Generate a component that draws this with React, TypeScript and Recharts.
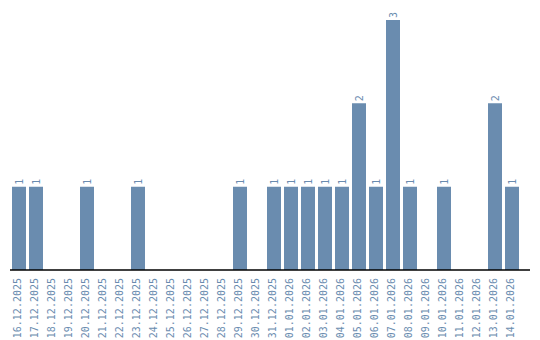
import React from "react";
import { BarChart, Bar, XAxis, YAxis, LabelList } from "recharts";

const dates = [
  "16.12.2025", "17.12.2025", "18.12.2025", "19.12.2025", "20.12.2025",
  "21.12.2025", "22.12.2025", "23.12.2025", "24.12.2025", "25.12.2025",
  "26.12.2025", "27.12.2025", "28.12.2025", "29.12.2025", "30.12.2025",
  "31.12.2025", "01.01.2026", "02.01.2026", "03.01.2026", "04.01.2026",
  "05.01.2026", "06.01.2026", "07.01.2026", "08.01.2026", "09.01.2026",
  "10.01.2026", "11.01.2026", "12.01.2026", "13.01.2026", "14.01.2026",
];
const counts = [1, 1, 0, 0, 1, 0, 0, 1, 0, 0, 0, 0, 0, 1, 0, 1, 1, 1, 1, 1, 2, 1, 3, 1, 0, 1, 0, 0, 2, 1];

const data = dates.map((d, i) => ({ date: d, value: counts[i] }));

const BAR = "#6a8caf";
const FONT = "'DejaVu Sans Mono', monospace";

const Tick = (props: any) => {
  const { x, y, payload } = props;
  return (
    <text
      x={0}
      y={0}
      transform={`translate(${x - 1},${y}) rotate(-90)`}
      textAnchor="end"
      dominantBaseline="central"
      fill={BAR}
      fontSize={10}
      fontFamily={FONT}
    >
      {payload.value}
    </text>
  );
};

const ValueLabel = (props: any) => {
  const { x, y, width, value } = props;
  if (!value) return null;
  const cx = x + width / 2;
  return (
    <text
      x={0}
      y={0}
      transform={`translate(${cx},${y - 2}) rotate(-90)`}
      textAnchor="start"
      dominantBaseline="central"
      fill={BAR}
      fontSize={10}
      fontFamily={FONT}
    >
      {value}
    </text>
  );
};

export default function App() {
  return (
    <div style={{ position: "absolute", left: 0, top: 0 }}>
      <BarChart
        width={540}
        height={340}
        data={data}
        margin={{ top: 10, right: 10, bottom: 0, left: 10 }}
        barSize={14}
      >
        <XAxis
          dataKey="date"
          interval={0}
          height={70}
          tick={<Tick />}
          tickLine={false}
          axisLine={{ stroke: "#000", strokeWidth: 1.5 }}
          padding={{ left: 0, right: 10 }}
        />
        <YAxis
          width={0}
          domain={[0, 3.12]}
          tick={false}
          tickLine={false}
          axisLine={{ stroke: "#000", strokeWidth: 1.5 }}
        />
        <Bar dataKey="value" fill={BAR} isAnimationActive={false}>
          <LabelList dataKey="value" content={<ValueLabel />} />
        </Bar>
      </BarChart>
    </div>
  );
}
